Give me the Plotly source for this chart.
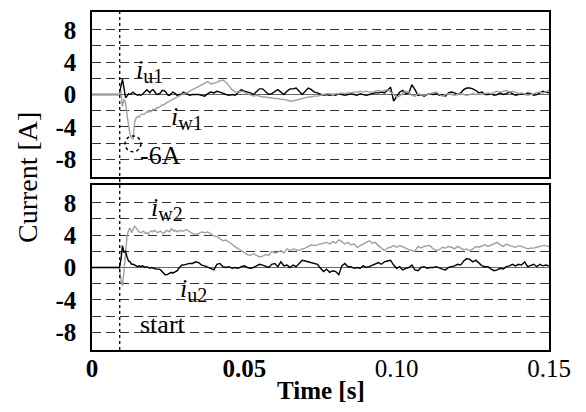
import numpy as np
import plotly.graph_objects as go

# ---------------- time grid ----------------
t_fine = np.round(np.arange(60) * 0.0005, 4)          # 0 ... 0.0295 s
t_coarse = np.round(0.030 + np.arange(121) * 0.001, 4)  # 0.030 ... 0.150 s
time = np.concatenate([t_fine, t_coarse])

# ---------------- before start (0 ... 0.0085 s) ----------------
pre_u1 = [0.0, 0.0, 0.0, 0.0, 0.0, 0.0, 0.0, 0.0, 0.0, 0.0, 0.0, 0.0, 0.0, 0.0, 0.0, 0.0, 0.0, 0.0]
pre_w1 = [0.0, 0.0, 0.0, 0.0, 0.0, 0.0, 0.0, 0.0, 0.0, 0.0, 0.0, 0.0, 0.0, 0.0, 0.0, 0.0, 0.0, 0.0]
pre_u2 = [0.0, 0.0, 0.0, 0.0, 0.0, 0.0, 0.0, 0.0, 0.0, 0.0, 0.0, 0.0, 0.0, 0.0, 0.0, 0.0, 0.0, 0.0]
pre_w2 = [0.0, 0.0, 0.0, 0.0, 0.0, 0.0, 0.0, 0.0, 0.0, 0.0, 0.0, 0.0, 0.0, 0.0, 0.0, 0.0, 0.0, 0.0]

# ---------------- transient (0.009 ... 0.0295 s, 0.5 ms) ----------------
fine_u1 = [0.0, 1.0, 1.9, 0.8, -0.4, -0.2, 0.1, 0.0, 0.2, 0.3,
           0.1, 0.0, -0.1, 0.0, -0.1, 0.0, 0.2, 0.5, 0.6, 0.4,
           0.2, 0.5, 0.6, 0.4, 0.1, 0.0, 0.1, 0.2, 0.5, 0.5,
           0.4, 0.1, -0.1, -0.1, 0.1, 0.3, 0.2, 0.0, -0.1, 0.0,
           0.0, 0.1]
fine_w1 = [0.0, 0.5, -1.5, -0.6, -1.0, -2.5, -4.0, -5.0, -5.4, -5.5,
           -3.4, -2.9, -2.7, -2.8, -2.5, -2.4, -2.5, -2.3, -2.1, -2.2,
           -2.0, -2.1, -1.8, -1.9, -1.7, -1.6, -1.6, -1.4, -1.3, -1.3,
           -1.1, -1.0, -0.9, -0.8, -0.7, -0.5, -0.5, -0.3, -0.2, -0.1,
           0.0, 0.0]
fine_u2 = [0.0, 1.0, 2.7, 1.9, 2.0, 1.3, 0.8, 0.7, 0.4, 0.4,
           0.3, 0.2, 0.1, 0.2, 0.1, 0.2, 0.1, 0.0, 0.1, 0.0,
           -0.1, 0.0, -0.1, -0.1, -0.2, -0.2, -0.2, -0.3, -0.5, -0.8,
           -0.9, -0.9, -0.8, -0.6, -0.6, -0.7, -0.6, -0.5, -0.4, -0.1,
           0.1, 0.3]
fine_w2 = [0.0, -1.5, -2.3, -0.5, 2.0, 3.9, 4.6, 4.9, 4.3, 4.8,
           5.1, 4.9, 4.6, 4.4, 4.3, 4.4, 4.5, 4.2, 4.3, 4.1,
           4.4, 4.5, 4.4, 4.6, 4.5, 4.3, 4.4, 4.5, 4.3, 4.2,
           4.4, 4.6, 4.5, 4.4, 4.8, 4.6, 4.5, 4.6, 4.4, 4.5,
           4.6, 4.5]

# ---------------- steady part (0.030 ... 0.150 s, 1 ms) ----------------
coarse_u1 = [0.3, 0.1, -0.1, 0.0, 0.0, 0.0, -0.1, -0.2, 0.1, 0.3,
             0.2, 0.4, 0.3, 0.1, 0.0, -0.1, 0.0, -0.1, 0.2, 0.6,
             0.4, 0.3, 0.2, 0.0, 0.4, 0.7, 0.7, 0.4, 0.0, 0.1,
             0.4, 0.6, 0.3, 0.0, 0.4, 0.7, 0.7, 0.8, 0.4, 0.0,
             0.4, 0.8, 0.6, 0.3, 0.2, 0.0, -0.1, 0.0, -0.1, 0.0,
             -0.1, 0.1, 0.0, -0.1, 0.0, 0.1, 0.0, -0.1, 0.1, 0.0,
             -0.1, 0.0, 0.1, 0.2, 0.2, 0.3, 0.2, 0.5, 0.9, -0.8,
             -0.3, 0.3, 0.5, 0.1, 0.2, 1.2, 0.6, -0.1, 0.0, -0.2,
             0.0, 0.1, 0.0, 0.1, -0.1, 0.0, -0.2, 0.2, 0.3, 0.2,
             0.0, 0.2, 0.6, 0.8, 0.8, 0.7, 0.5, 0.2, 0.3, 0.0,
             0.0, 0.1, -0.1, 0.0, 0.2, 0.0, 0.1, 0.3, 0.1, -0.1,
             0.0, 0.1, 0.0, 0.2, 0.1, -0.1, 0.0, 0.2, 0.4, 0.3,
             0.2]
coarse_w1 = [0.1, 0.2, 0.4, 0.6, 0.8, 1.0, 1.3, 1.5, 1.6, 1.3,
             1.4, 1.5, 1.7, 1.8, 1.5, 1.0, 0.6, 0.3, 0.3, 0.4,
             0.3, 0.1, -0.1, -0.2, -0.1, -0.2, -0.3, -0.3, -0.4, -0.4,
             -0.5, -0.5, -0.6, -0.6, -0.7, -0.8, -0.8, -0.7, -0.6, -0.5,
             -0.4, -0.3, -0.3, -0.2, -0.2, -0.1, 0.0, 0.1, 0.1, 0.0,
             0.1, 0.1, 0.2, 0.1, 0.2, 0.2, 0.3, 0.3, 0.4, 0.3,
             0.4, 0.3, 0.3, 0.4, 0.5, 0.4, 0.5, 0.6, 0.3, 0.0,
             -0.3, -0.2, 0.2, 0.4, 0.3, -0.1, -0.2, 0.1, 0.0, -0.1,
             0.0, 0.1, 0.2, 0.3, 0.0, -0.2, 0.0, 0.1, 0.0, -0.1,
             0.0, 0.1, 0.0, -0.1, 0.0, 0.1, 0.0, 0.1, 0.0, 0.1,
             0.2, 0.1, 0.3, 0.4, 0.3, 0.4, 0.5, 0.3, 0.4, 0.3,
             0.1, 0.2, 0.0, -0.1, 0.0, 0.1, 0.2, 0.3, 0.2, 0.4,
             0.5]
coarse_u2 = [0.3, 0.4, 0.5, 0.5, 0.7, 0.6, 0.3, 0.2, 0.0, -0.2,
             -0.3, 0.4, 0.5, 0.1, 0.0, 0.1, -0.1, 0.0, -0.1, 0.1,
             0.2, 0.0, -0.1, 0.0, 0.2, 0.4, 0.3, 0.1, 0.0, 0.4,
             0.5, 0.1, 0.7, 0.2, 0.3, 0.0, 0.3, 0.1, 0.5, 0.9,
             0.8, 0.7, 0.6, 0.5, 0.4, -0.1, -0.5, -0.2, -0.6, -0.4,
             -0.5, -0.9, 0.2, 0.5, 0.1, 0.1, -0.1, 0.0, -0.1, 0.2,
             0.0, 0.1, 0.3, 0.4, 0.6, 0.4, 0.7, 0.8, 0.9, 0.3,
             -0.1, 0.1, -0.3, -0.1, 0.0, 0.3, -0.3, -0.4, 0.0, 0.1,
             -0.1, 0.0, 0.0, 0.1, -0.1, -0.2, -0.3, 0.0, 0.1, 0.2,
             0.4, 0.3, 0.8, 1.1, 1.0, 0.7, 0.9, 0.6, 0.2, 0.1,
             0.1, -0.2, -0.4, -0.3, -0.1, -0.2, 0.1, 0.2, 0.4, 0.2,
             0.4, 0.3, 0.7, 0.1, 0.3, 0.4, 0.1, 0.4, 0.2, 0.3,
             0.2]
coarse_w2 = [4.5, 4.7, 4.4, 4.2, 4.1, 4.2, 4.4, 4.3, 4.4, 4.1,
             3.9, 3.8, 3.6, 3.3, 3.4, 3.1, 2.9, 2.5, 2.3, 2.1,
             1.8, 1.6, 1.5, 1.7, 1.5, 1.3, 1.4, 1.6, 1.5, 2.0,
             1.8, 1.9, 2.1, 1.8, 2.3, 2.1, 2.3, 2.2, 2.1, 2.3,
             2.4, 2.6, 2.8, 2.7, 2.8, 2.9, 3.0, 3.1, 2.9, 3.2,
             3.0, 3.4, 3.2, 2.9, 3.1, 2.8, 2.9, 2.5, 2.7, 2.9,
             3.1, 3.3, 3.0, 3.1, 2.7, 2.4, 2.1, 2.4, 2.5, 2.7,
             2.5, 2.7, 2.5, 2.4, 2.2, 2.1, 2.0, 2.6, 2.4, 2.6,
             2.7, 2.7, 2.3, 2.1, 2.2, 2.5, 2.4, 2.6, 2.5, 2.3,
             2.6, 2.4, 2.2, 2.3, 2.1, 2.3, 2.6, 2.5, 2.7, 2.8,
             2.6, 2.8, 2.9, 3.1, 2.8, 2.6, 2.9, 2.7, 2.6, 2.5,
             2.7, 2.6, 2.4, 2.3, 2.4, 2.4, 2.5, 2.6, 2.7, 2.7,
             2.6]

i_u1 = pre_u1 + fine_u1 + coarse_u1
i_w1 = pre_w1 + fine_w1 + coarse_w1
i_u2 = pre_u2 + fine_u2 + coarse_u2
i_w2 = pre_w2 + fine_w2 + coarse_w2
for s in (i_u1, i_w1, i_u2, i_w2):
    assert len(s) == len(time), (len(s), len(time))

start_time = 0.0091
x_ticks = [0, 0.05, 0.10, 0.15]
x_ticktext = ["<b>0</b>", "<b>0.05</b>", "0.10", "0.15"]
y_ticks = [-8, -4, 0, 4, 8]
y_minor = [-6, -2, 2, 6]

FONT = "Liberation Serif"
GRAY = "#a0a0a0"
BLACK = "#000000"

fig = go.Figure()
fig.add_trace(go.Scatter(x=time, y=i_u1, mode="lines", line=dict(color=BLACK, width=1.4),
                         xaxis="x", yaxis="y", showlegend=False))
fig.add_trace(go.Scatter(x=time, y=i_w1, mode="lines", line=dict(color=GRAY, width=1.4),
                         xaxis="x", yaxis="y", showlegend=False))
fig.add_trace(go.Scatter(x=time, y=i_w2, mode="lines", line=dict(color=GRAY, width=1.4),
                         xaxis="x2", yaxis="y2", showlegend=False))
fig.add_trace(go.Scatter(x=time, y=i_u2, mode="lines", line=dict(color=BLACK, width=1.4),
                         xaxis="x2", yaxis="y2", showlegend=False))

yaxis_common = dict(
    range=[-10.2, 10.2], tickmode="array", tickvals=y_ticks,
    ticktext=[f"<b>{v}</b>" for v in y_ticks],
    tickfont=dict(family=FONT, size=25, color=BLACK),
    showgrid=True, gridcolor="#333333", griddash="9px,5px", gridwidth=1,
    minor=dict(tickmode="array", tickvals=y_minor, showgrid=True,
               gridcolor="#333333", griddash="9px,5px", gridwidth=1),
    zeroline=True, zerolinecolor="#666666", zerolinewidth=1,
    showline=True, linecolor=BLACK, linewidth=1.5, mirror=True,
    ticks="", ticklabelstandoff=9,
)
xaxis_common = dict(
    range=[0, 0.15], tickmode="array", tickvals=x_ticks, ticktext=x_ticktext,
    tickfont=dict(family=FONT, size=25, color=BLACK),
    showgrid=False, zeroline=False,
    showline=True, linecolor=BLACK, linewidth=1.5, mirror=True, ticks="",
    ticklabelstandoff=-5,
)

# the page body adds an 8 px offset; plot area spans x 92..549, y 10..350 on screen
OFF = 8
ML, MT, PW, PH = 92 - OFF, 10 - OFF, 457, 340
FW, FH = 586 - OFF, 412 - OFF

split_top = (350 - 176) / PH
split_bot = (350 - 184) / PH

fig.update_layout(
    width=FW, height=FH,
    margin=dict(l=ML, r=FW - ML - PW, t=MT, b=FH - MT - PH),
    paper_bgcolor="white", plot_bgcolor="white",
    xaxis=dict(xaxis_common, domain=[0, 1], anchor="y", showticklabels=False),
    yaxis=dict(yaxis_common, domain=[split_top, 1], anchor="x"),
    xaxis2=dict(xaxis_common, domain=[0, 1], anchor="y2", matches="x"),
    yaxis2=dict(yaxis_common, domain=[0, split_bot], anchor="x2"),
    font=dict(family=FONT, color=BLACK, size=25),
)

# start marker (dotted vertical line through both panels)
fig.add_shape(type="line", xref="x", yref="paper", x0=start_time, x1=start_time, y0=0, y1=1,
              line=dict(color=BLACK, width=1.3, dash="dot"))
# dotted circle at the -6 A peak
fig.add_shape(type="circle", xref="x", yref="y",
              x0=0.01346 - 0.0026, x1=0.01346 + 0.0026, y0=-6.1 - 0.98, y1=-6.1 + 0.98,
              line=dict(color=BLACK, width=1.5, dash="dot"))


def px_x(X):
    return (X - 92) / PW


def px_y(Y):
    return (350 - Y) / PH


ann_font = dict(family=FONT, size=26, color=BLACK)
SUB = "<span style='font-size:20px'>%s</span>"
annotations = [
    dict(x=0.0137, y=2.9, xref="x", yref="y", text="<i>i</i><sub>" + SUB % "u1" + "</sub>",
         xanchor="left", yanchor="middle"),
    dict(x=0.0254, y=-2.9, xref="x", yref="y", text="<i>i</i><sub>" + SUB % "w1" + "</sub>",
         xanchor="left", yanchor="middle"),
    dict(x=0.0225, y=-7.6, xref="x", yref="y", text="-6A", xanchor="center", yanchor="middle"),
    dict(x=0.0188, y=7.2, xref="x2", yref="y2", text="<i>i</i><sub>" + SUB % "w2" + "</sub>",
         xanchor="left", yanchor="middle"),
    dict(x=0.0281, y=-2.8, xref="x2", yref="y2", text="<i>i</i><sub>" + SUB % "u2" + "</sub>",
         xanchor="left", yanchor="middle"),
    dict(x=0.0233, y=-7.1, xref="x2", yref="y2", text="start", xanchor="center", yanchor="middle"),
    dict(x=px_x(27), y=px_y(177), xref="paper", yref="paper", text="Current [A]", textangle=-90,
         xanchor="center", yanchor="middle", font=dict(family=FONT, size=28, color=BLACK)),
    dict(x=px_x(321), y=px_y(391), xref="paper", yref="paper", text="<b>Time [s]</b>",
         xanchor="center", yanchor="middle", font=dict(family=FONT, size=25, color=BLACK)),
]
for a in annotations:
    a.setdefault("showarrow", False)
    a.setdefault("font", ann_font)
    fig.add_annotation(**a)

fig.write_html("out.html")
